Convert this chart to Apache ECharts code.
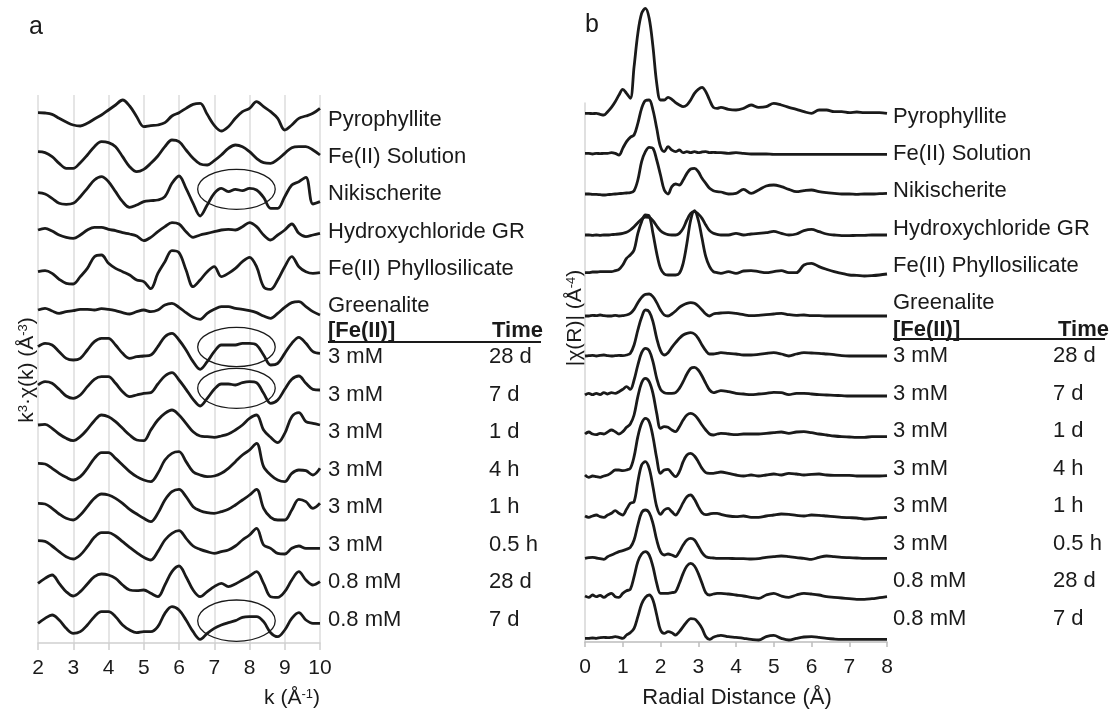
<!DOCTYPE html>
<html>
<head>
<meta charset="utf-8">
<script src="https://cdn.jsdelivr.net/npm/echarts@6/dist/echarts.min.js"></script>
<style>
html,body{margin:0;padding:0;background:#fff;}
#chart{width:1112px;height:715px;}
</style>
</head>
<body>
<div id="chart"></div>
<script>
// ---------------- DATA ----------------
// Panel a: k (Å^-1) sampling
const kValues = [2.0,2.2,2.4,2.6,2.8,3.0,3.2,3.4,3.6,3.8,4.0,4.2,4.4,4.6,4.8,5.0,5.2,5.4,5.6,5.8,6.0,6.2,6.4,6.6,6.8,7.0,7.2,7.4,7.6,7.8,8.0,8.2,8.4,8.6,8.8,9.0,9.2,9.4,9.6,9.8,10.0];
// Panel b: R (Å) sampling
const rValues = [0,0.1,0.2,0.3,0.4,0.5,0.6,0.7,0.8,0.9,1.0,1.1,1.2,1.3,1.4,1.5,1.6,1.7,1.8,1.9,2.0,2.1,2.2,2.3,2.4,2.5,2.6,2.7,2.8,2.9,3.0,3.1,3.2,3.3,3.4,3.5,3.6,3.8,4.0,4.2,4.4,4.6,4.8,5.0,5.2,5.4,5.6,5.8,6.0,6.2,6.4,6.6,6.8,7.0,7.2,7.4,7.6,7.8,8.0];

// Panel a k^3-weighted chi(k) (arbitrary units, relative to each trace's offset)
const kPyrophyllite  = [0,-1,-5,-17,-28,-37,-40,-32,-19,-7,8,23,38,20,-12,-42,-39,-37,-30,-10,0,13,25,28,-5,-38,-55,-42,-17,3,13,33,18,3,-17,-52,-37,-17,-10,-2,13];
const kFeSolution    = [0,-3,-15,-35,-50,-50,-33,-10,15,30,27,15,-15,-45,-60,-53,-35,-13,15,35,30,5,-20,-37,-40,-27,-10,10,20,15,0,-20,-33,-35,-23,-5,12,15,15,5,-10];
const kNikischerite  = [0,-4,-17,-32,-35,-32,-12,13,38,48,33,3,-27,-44,-37,-27,-24,-22,-12,28,50,13,-32,-70,-37,-2,13,3,10,6,13,8,-14,-47,-47,-12,23,33,46,-34,-27];
const kHydroxyGR     = [0,5,-3,-15,-22,-25,-15,0,8,8,2,-2,-8,-12,-18,-32,-22,-5,10,22,18,-5,-22,-15,-10,-5,0,2,0,10,22,10,-15,-30,-15,0,18,-10,-20,-15,-10];
const kPhyllosil     = [0,3,-5,-23,-35,-37,-15,10,45,50,25,10,0,-10,-25,-30,-51,-5,30,63,57,5,-45,-25,0,15,-15,-5,10,30,43,15,-45,-53,-25,15,45,15,0,-5,-3];
const kGreenalite    = [0,5,-3,-10,-5,-2,2,2,0,4,2,-2,-8,-12,-5,0,-5,0,15,20,8,-8,-22,-28,-10,2,10,10,5,2,-2,-8,-18,-25,-10,8,22,25,10,-5,-15];
const k3mM28d        = [0,10,5,-15,-35,-40,-35,-10,15,25,25,5,-20,-35,-30,-28,-25,0,30,40,20,-10,-45,-68,-45,-15,5,5,5,10,10,5,-25,-55,-50,-20,10,28,10,-15,-20];
const k3mM7d         = [0,10,5,-13,-33,-40,-30,-5,17,25,25,5,-20,-35,-30,-25,-23,3,27,37,15,-13,-43,-63,-40,-13,3,3,0,7,10,7,-25,-55,-45,-13,17,27,5,-13,-15];
const k3mM1d         = [0,2,-10,-27,-40,-47,-35,-13,13,30,25,10,-10,-30,-45,-47,-15,15,35,45,30,5,-20,-33,-35,-37,-33,-27,-15,0,20,30,-15,-37,-53,-25,25,37,10,5,0];
const k3mM4h         = [0,-2,-15,-30,-42,-50,-40,-15,15,32,32,15,-5,-25,-40,-50,-55,-30,10,30,35,5,-25,-35,-40,-38,-30,-15,5,25,40,60,-10,-35,-50,-55,-30,-20,-22,-35,-15];
const k3mM1h         = [0,-2,-15,-32,-45,-50,-35,-10,15,28,25,15,0,-18,-32,-45,-55,-30,10,35,42,20,-10,-22,-28,-30,-25,-18,-5,10,25,42,-15,-42,-50,-50,-20,12,5,-15,0];
const k3mM05h        = [0,-2,-16,-33,-48,-55,-43,-18,10,24,24,14,-3,-20,-36,-50,-58,-33,2,22,30,7,-16,-26,-33,-38,-33,-28,-16,2,17,37,-13,-23,-38,-40,-23,-16,-23,-23,-23];
const k08mM28d       = [0,15,25,0,-25,-38,-25,-2,20,28,25,15,-5,-20,-22,-20,-30,-40,-5,35,52,20,-20,-40,-25,-10,0,-10,-2,10,22,35,0,-40,-42,-25,10,35,10,-5,5];
const k08mM7d        = [0,15,25,10,-15,-30,-25,-5,20,35,35,20,-5,-20,-28,-25,-25,-10,30,50,40,10,-25,-48,-30,-15,-5,2,8,18,20,20,5,-28,-40,-20,15,32,10,0,0];
const kOffsets       = [1591,1474,1351,1239,1114,999,889,774,654,539,419,307,179,59];

// Panel b |chi(R)| (arbitrary units, relative to each trace's offset)
const rPyrophyllite  = [0,0,-1,0,-3,-5,5,18,35,55,72,60,45,140,240,300,315,285,200,90,40,40,48,42,32,25,20,25,40,60,72,78,65,40,18,15,18,12,10,15,25,18,20,30,25,18,12,5,0,10,10,5,5,2,4,2,2,2,0];
const rFeSolution    = [0,0,-2,0,-1,0,0,2,0,-5,15,35,48,55,90,135,158,160,130,75,20,5,20,10,5,10,2,5,2,5,2,4,5,2,3,2,2,0,2,0,-2,-2,-2,-3,-3,-3,-3,-3,-3,-3,-3,-3,-3,-3,-3,-3,-3,-3,-3];
const rNikischerite  = [0,0,-1,-1,-2,-3,-2,-1,0,1,2,3,4,10,42,97,127,140,137,102,57,12,0,22,30,27,42,62,75,77,67,47,32,17,10,7,6,0,2,14,2,12,24,27,22,14,7,10,12,7,4,2,0,0,-1,0,0,1,2];
const rHydroxyGR     = [0,0,-1,0,-1,0,0,1,2,3,5,8,15,25,37,48,54,53,43,27,13,5,1,0,0,5,20,45,65,70,63,50,30,13,5,2,0,0,5,0,3,5,7,11,5,0,3,13,17,10,3,0,-2,-2,-1,-1,0,0,0];
const rPhyllosil     = [-3,-3,-1,-1,0,0,0,0,3,7,20,40,50,65,115,150,170,167,115,55,10,-7,-10,-10,-10,-5,25,85,155,183,155,100,45,15,0,-3,-5,0,-5,2,3,0,-3,0,3,-3,-3,20,25,15,7,0,-5,-10,-11,-13,-12,-10,-7];
const rGreenalite    = [0,0,2,1,3,1,0,0,2,0,1,3,8,20,40,56,65,66,58,40,18,3,0,6,15,26,33,38,40,38,30,18,6,0,6,8,9,10,8,4,1,2,4,6,8,4,2,3,1,1,0,0,0,0,0,0,0,0,0];
const r3mM28d        = [0,1,2,0,2,3,1,0,1,2,1,3,8,33,78,116,138,133,103,53,16,3,10,26,40,53,63,68,70,66,53,33,16,6,6,8,10,8,6,3,3,5,8,10,6,0,6,10,9,8,6,4,1,0,0,0,0,0,0];
const r3mM7d         = [0,5,1,5,1,7,3,7,5,10,17,25,17,45,90,127,140,133,100,50,17,7,5,5,7,20,40,63,80,83,75,57,35,15,7,10,13,10,5,3,1,3,5,8,7,1,5,5,3,1,0,-1,-2,-3,-3,-3,-3,-3,-3];
const r3mM1d         = [0,6,0,-2,2,0,6,12,7,0,7,20,30,57,112,154,167,157,122,62,17,22,20,12,7,22,42,57,62,57,44,27,12,0,-3,0,2,0,-2,0,0,0,2,4,6,2,6,7,4,0,-3,-6,-8,-9,-10,-10,-8,-8,-8];
const r3mM4h         = [0,-7,-3,-5,-7,-3,0,7,15,15,13,15,20,55,115,155,170,160,115,50,5,15,17,5,-5,10,40,60,65,57,40,20,7,5,5,7,9,5,0,-3,0,-3,0,3,0,5,3,0,2,3,0,-1,-1,-1,-3,-3,-3,-3,-2];
const r3mM1h         = [0,-4,0,3,-2,-4,3,8,16,8,3,20,38,43,103,153,163,143,88,28,5,18,23,13,3,18,40,58,63,50,28,10,4,6,8,8,5,0,-2,0,-4,-4,0,3,6,5,2,0,3,2,0,-2,-4,-5,-6,-9,-8,-5,-4];
const r3mM05h        = [0,2,3,1,-1,-3,5,10,15,20,23,27,33,55,100,137,145,137,105,55,20,10,13,10,5,20,40,55,60,55,37,17,5,2,1,0,0,0,-1,-1,-2,-1,3,5,7,5,2,0,-3,3,7,5,3,2,1,0,0,0,0];
const r08mM28d       = [0,-4,3,-2,2,-4,3,8,-2,-4,8,16,20,58,103,126,133,123,88,38,8,8,8,10,13,38,68,90,98,90,68,38,10,3,6,8,8,6,3,0,-4,-7,3,8,0,-4,3,8,6,3,-2,-4,-6,-8,-10,-10,-8,-5,-2];
const r08mM7d        = [0,0,1,0,2,3,2,3,5,3,0,10,17,30,65,103,123,130,115,70,25,15,20,17,10,20,35,50,59,58,47,30,5,-3,3,7,9,5,3,0,-3,-5,5,9,0,-5,0,4,5,3,0,-2,-3,-3,-3,-3,-3,-3,-3];
const rOffsets       = [1586,1466,1344,1221,1111,978,858,741,624,501,378,251,138,11];

// Ellipse highlights in panel a: [k centre, y centre, k half-width, y half-height]
const ellipseMarks = [[7.63,1361,1.1,60],[7.63,888,1.1,59],[7.63,764,1.1,60],[7.63,67,1.1,62]];

// Tick labels & text
const kTicks = [2,3,4,5,6,7,8,9,10];
const rTicks = [0,1,2,3,4,5,6,7,8];
const sampleNames = ['Pyrophyllite','Fe(II) Solution','Nikischerite','Hydroxychloride GR','Fe(II) Phyllosilicate','Greenalite'];
const concLabels = ['3 mM','3 mM','3 mM','3 mM','3 mM','3 mM','0.8 mM','0.8 mM'];
const timeLabels = ['28 d','7 d','1 d','4 h','1 h','0.5 h','28 d','7 d'];

// ---------------- CHART ----------------
const FONT = '"Liberation Sans", Arial, Helvetica, sans-serif';
const INK = '#1a1a1a';
const kTraces = [kPyrophyllite,kFeSolution,kNikischerite,kHydroxyGR,kPhyllosil,kGreenalite,k3mM28d,k3mM7d,k3mM1d,k3mM4h,k3mM1h,k3mM05h,k08mM28d,k08mM7d];
const rTraces = [rPyrophyllite,rFeSolution,rNikischerite,rHydroxyGR,rPhyllosil,rGreenalite,r3mM28d,r3mM7d,r3mM1d,r3mM4h,r3mM1h,r3mM05h,r08mM28d,r08mM7d];

const series = [];
kTraces.forEach((arr, i) => {
  series.push({
    type: 'line', xAxisIndex: 0, yAxisIndex: 0, silent: true,
    data: kValues.map((k, j) => [k, kOffsets[i] + arr[j]]),
    showSymbol: false, symbol: 'none', smooth: 0.35, clip: false,
    lineStyle: { color: INK, width: 2.8 }
  });
});
rTraces.forEach((arr, i) => {
  series.push({
    type: 'line', xAxisIndex: 1, yAxisIndex: 1, silent: true,
    data: rValues.map((r, j) => [r, rOffsets[i] + arr[j]]),
    showSymbol: false, symbol: 'none', smooth: 0.35, clip: false,
    lineStyle: { color: INK, width: 2.8 }
  });
});
series.push({
  type: 'custom', xAxisIndex: 0, yAxisIndex: 0, silent: true,
  data: ellipseMarks,
  encode: { x: 0, y: 1 },
  renderItem: function (params, api) {
    const c = api.coord([api.value(0), api.value(1)]);
    const s = api.size([api.value(2), api.value(3)]);
    return {
      type: 'ellipse',
      shape: { cx: c[0], cy: c[1], rx: s[0], ry: s[1] },
      style: { fill: 'none', stroke: INK, lineWidth: 1.3 }
    };
  }
});

function txt(x, y, text, opts) {
  return Object.assign({
    type: 'text', x: x, y: y, silent: true,
    style: Object.assign({
      text: text, fontFamily: FONT, fontSize: 22, fill: INK,
      align: 'left', verticalAlign: 'middle'
    }, (opts && opts.style) || {})
  }, (opts && opts.el) || {});
}

const graphics = [];
graphics.push(txt(36, 27, 'a', { style: { fontSize: 25, align: 'center' } }));
graphics.push(txt(592, 25, 'b', { style: { fontSize: 25, align: 'center' } }));

// Axis titles
const supRich = {
  n: { fontFamily: FONT, fontSize: 21, fill: INK },
  s: { fontFamily: FONT, fontSize: 13, fill: INK, verticalAlign: 'top' }
};
graphics.push({
  type: 'text', x: 27, y: 370, rotation: Math.PI / 2, silent: true,
  style: { text: '{n|k}{s|3}{n|·χ(k) (Å}{s|-3}{n|)}', rich: supRich, align: 'center', verticalAlign: 'middle' }
});
graphics.push({
  type: 'text', x: 575, y: 318, rotation: Math.PI / 2, silent: true,
  style: { text: '{n||χ(R)| (Å}{s|-4}{n|)}', rich: supRich, align: 'center', verticalAlign: 'middle' }
});
graphics.push({
  type: 'text', x: 320, y: 698, silent: true,
  style: { text: '{n|k (Å}{s|-1}{n|)}', rich: supRich, align: 'right', verticalAlign: 'middle' }
});
graphics.push(txt(737, 698, 'Radial Distance (Å)', { style: { fontSize: 22, align: 'center' } }));

// Right-hand labels for both panels
[[328, 489, 492, 541, 120, 357, 331, 342], [893, 1053, 1058, 1105, 117, 356, 330, 339]].forEach(p => {
  const [xl, xt, xh, xe, y0, yr, yh, yu] = p;
  sampleNames.forEach((n, i) => graphics.push(txt(xl, y0 + i * 37.2, n)));
  graphics.push(txt(xl, yh, '[Fe(II)]', { style: { fontWeight: 'bold' } }));
  graphics.push(txt(xh, yh, 'Time', { style: { fontWeight: 'bold' } }));
  graphics.push({ type: 'line', silent: true, shape: { x1: xl, y1: yu, x2: xe, y2: yu }, style: { stroke: INK, lineWidth: 2 } });
  concLabels.forEach((c, i) => {
    graphics.push(txt(xl, yr + i * 37.5, c));
    graphics.push(txt(xt, yr + i * 37.5, timeLabels[i]));
  });
});

const chart = echarts.init(document.getElementById('chart'), null, { renderer: 'canvas' });
chart.setOption({
  animation: false,
  backgroundColor: '#ffffff',
  grid: [
    { left: 38, right: 792, top: 95, bottom: 72, containLabel: false },
    { left: 585, right: 225, top: 103, bottom: 73, containLabel: false }
  ],
  xAxis: [
    {
      gridIndex: 0, type: 'value', min: 2, max: 10, interval: 1,
      axisLine: { show: true, lineStyle: { color: '#cfcfcf', width: 1.5 } },
      axisTick: { show: true, length: 7, lineStyle: { color: '#cfcfcf', width: 1.5 } },
      splitLine: { show: true, lineStyle: { color: '#dcdcdc', width: 1.5 } },
      axisLabel: { fontFamily: FONT, fontSize: 21, color: INK, margin: 15,
        formatter: v => (kTicks.indexOf(v) >= 0 ? String(v) : '') }
    },
    {
      gridIndex: 1, type: 'value', min: 0, max: 8, interval: 1,
      axisLine: { show: true, lineStyle: { color: '#bdbdbd', width: 1.5 } },
      axisTick: { show: true, length: 5, lineStyle: { color: '#bdbdbd', width: 1.5 } },
      splitLine: { show: false },
      axisLabel: { fontFamily: FONT, fontSize: 21, color: INK, margin: 15,
        formatter: v => (rTicks.indexOf(v) >= 0 ? String(v) : '') }
    }
  ],
  yAxis: [
    { gridIndex: 0, type: 'value', min: 0, max: 1644, show: true,
      axisLine: { show: false }, axisTick: { show: false }, axisLabel: { show: false }, splitLine: { show: false } },
    { gridIndex: 1, type: 'value', min: 0, max: 1617, show: true,
      axisLine: { show: true, lineStyle: { color: '#d6d6d6', width: 1.5 } }, axisTick: { show: false },
      axisLabel: { show: false }, splitLine: { show: false } }
  ],
  series: series,
  graphic: graphics
});
</script>
</body>
</html>
